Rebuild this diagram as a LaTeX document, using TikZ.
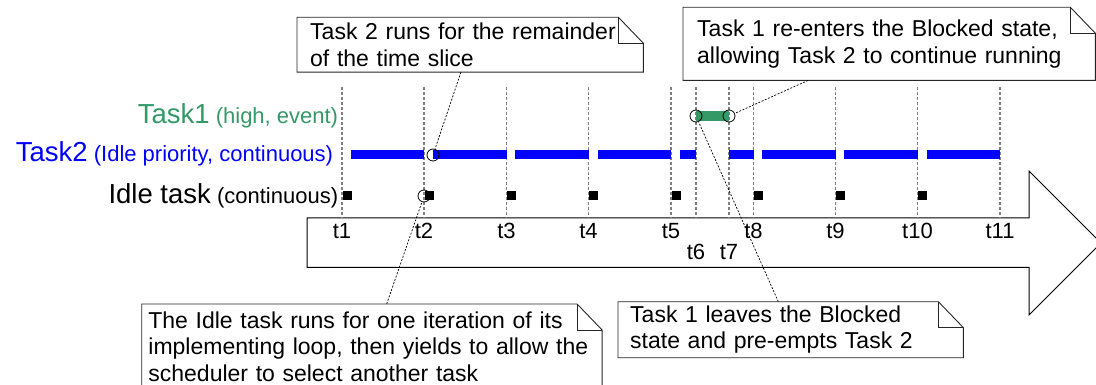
\documentclass[tikz,border=0pt]{standalone}
\usepackage{fontspec}
\setmainfont{Liberation Sans}
\definecolor{taskgreen}{HTML}{339966}
\definecolor{taskblue}{HTML}{0000FF}
\definecolor{tickgray}{HTML}{808080}
\newcommand{\notefont}{\fontsize{23}{26.5}\selectfont}
\newcommand{\bigfont}{\fontsize{27.5}{30}\selectfont}
\newcommand{\smallfont}{\fontsize{22}{24}\selectfont}
% folded-corner outline round a note node
\newcommand{\dogear}[1]{%
  \draw[noteline] (#1.south west) -- (#1.north west) -- ([xshift=-25pt]#1.north east) -- ([yshift=-26pt]#1.north east) -- (#1.south east) -- cycle;
  \draw[noteline] ([xshift=-25pt]#1.north east) |- ([yshift=-26pt]#1.north east);
}

\begin{document}
\begin{tikzpicture}[
  x=1pt, y=-1pt,
  tickline/.style={tickgray, line width=1.2pt, dash pattern=on 3pt off 2pt},
  arrowline/.style={black, line width=1pt},
  noteline/.style={draw=black!85, line width=0.9pt},
  calloutline/.style={black, line width=0.7pt, dash pattern=on 2pt off 1.5pt},
  marker/.style={circle, draw=black, line width=0.8pt, minimum size=12pt, inner sep=0pt},
  rowlabel/.style={anchor=base east, inner sep=0pt, font=\smallfont},
  timelabel/.style={anchor=base, inner sep=0pt, font=\smallfont},
  notebox/.style={rectangle, anchor=north west, inner ysep=2pt, align=left, font=\notefont},
]
\useasboundingbox (0,0) rectangle (1096,385);
\clip (0,0) rectangle (1096,385);

% time arrow
\draw[arrowline] (307,218) -- (1029,218) -- (1029,171) -- (1101,243) -- (1029,315) -- (1029,267.3) -- (307,267.3) -- cycle;

% tick lines
\foreach \x in {342,424,506.5,588.5,671,696,729,753.5,835.5,917.5,1000}
  \draw[tickline] (\x,87) -- (\x,218);

% Task2 running
\foreach \a/\b in {351/424,433/506.5,515/588.5,598/671,680/696,729/753.5,762/835.5,844/917.5,927/1000}
  \fill[taskblue] (\a,150) rectangle (\b,159.5);

% Task1 running
\fill[taskgreen] (696,111.5) rectangle (729,121);

% Idle task running
\foreach \x in {342,424,506.5,588.5,671,753.5,835.5,917.5}
  \fill[black] (\x+0.5,191.5) rectangle (\x+9.5,200.5);

\node[marker] (slicemark) at (433,155) {};
\node[marker] (idlemark) at (424,196) {};
\node[marker] (leavemark) at (696,116) {};
\node[marker] (reentermark) at (729,116) {};

% row labels
\node[rowlabel, text=taskgreen] (task1label) at (338.3,123.3) {{\bigfont Task1} (high, event)};
\node[rowlabel, text=taskblue] (task2label) at (333.3,161.7) {{\bigfont Task2} (Idle priority, continuous)};
\node[rowlabel] (idlelabel) at (338.3,203.3) {{\bigfont Idle task} (continuous)};

% time labels
\foreach \n/\x in {1/342,2/424,3/506.5,4/588.5,5/671,8/753.5,9/835.5,10/917.5,11/1000}
  \node[timelabel] (t\n) at (\x,238.5) {t\n};
\node[timelabel] (t6) at (696,259) {t6};
\node[timelabel] (t7) at (729,259) {t7};

% notes
\node[notebox, minimum width=346pt, minimum height=54.4pt, text width=320pt, inner xsep=13pt] (slicenote) at (297,17.3) {Task 2 runs for the remainder\\of the time slice};
\node[notebox, minimum width=412pt, minimum height=72.7pt, text width=384pt, inner xsep=14pt] (reenternote) at (683,7.3) {Task 1 re-enters the Blocked state,\\allowing Task 2 to continue running};
\node[notebox, minimum width=460pt, minimum height=85pt, text width=447pt, inner xsep=6.5pt] (idlenote) at (141.7,304) {The Idle task runs for one iteration of its\\implementing loop, then yields to allow the\\scheduler to select another task};
\node[notebox, minimum width=345pt, minimum height=55.6pt, text width=321pt, inner xsep=12pt] (leavenote) at (618,301.7) {Task 1 leaves the Blocked\\state and pre-empts Task 2};
\dogear{slicenote}
\dogear{reenternote}
\dogear{idlenote}
\dogear{leavenote}

% callouts
\draw[calloutline] (slicenote) -- (slicemark);
\draw[calloutline] (reenternote) -- (reentermark);
\draw[calloutline] (idlenote) -- (idlemark);
\draw[calloutline] (leavenote) -- (leavemark);
\end{tikzpicture}
\end{document}
